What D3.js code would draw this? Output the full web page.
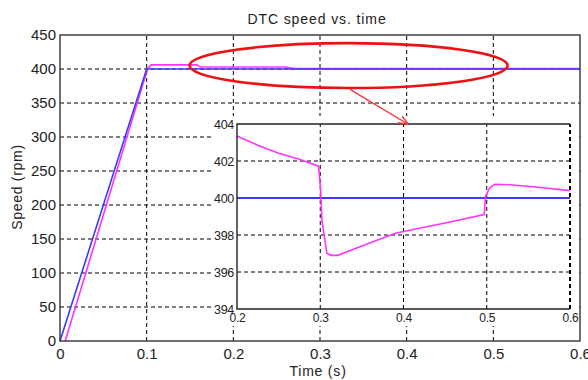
<!DOCTYPE html>
<html>
<head>
<meta charset="utf-8">
<script src="https://cdn.jsdelivr.net/npm/d3@7/dist/d3.min.js"></script>
<style>
  body { margin: 0; background: #fff; }
  svg { display: block; font-family: Arial, "Liberation Sans", sans-serif; }
</style>
</head>
<body>
<svg id="chart" width="588" height="380"></svg>
<script>
// main plot data
const xTicks = [0, 0.1, 0.2, 0.3, 0.4, 0.5, 0.6];
const yTicks = [0, 50, 100, 150, 200, 250, 300, 350, 400, 450];
const refTime = [0, 0.1, 0.6];
const refSpeed = [0, 400, 400];
const actTime = [0.006, 0.101, 0.105, 0.158, 0.162, 0.26, 0.27, 0.6];
const actSpeed = [0, 400, 406, 406, 403, 403, 400.6, 400.6];

// zoomed inset data
const insetXTicks = [0.2, 0.3, 0.4, 0.5, 0.6];
const insetYTicks = [394, 396, 398, 400, 402, 404];
const insetRefTime = [0.2, 0.6];
const insetRefSpeed = [400, 400];
const insetActTime = [0.2, 0.225, 0.25, 0.275, 0.298, 0.3005, 0.302, 0.308, 0.313, 0.321,
  0.35, 0.39, 0.45, 0.497, 0.4985, 0.504, 0.51, 0.528, 0.545, 0.568, 0.6];
const insetActSpeed = [403.35, 402.85, 402.42, 402.1, 401.72, 400.4, 398.8, 397.0, 396.9, 396.9,
  397.4, 398.1, 398.65, 399.1, 400.1, 400.58, 400.74, 400.72, 400.65, 400.55, 400.4];

// red annotation (in main-plot units)
const ringCenter = [0.333, 405];
const ringRadius = [0.1835, 33];
const arrowFrom = [0.3346, 370];
const arrowTo = [0.405, 404]; // inset units

const svg = d3.select('#chart');
const blue = '#3a3aff';
const magenta = '#ff33ff';
const gridDash = '4,3';
const font = 'Arial, "Liberation Sans", sans-serif';

const x = d3.scaleLinear().domain([0, 0.6]).range([60, 580]);
const y = d3.scaleLinear().domain([0, 450]).range([341, 35]);

const xi = d3.scaleLinear().domain([0.2, 0.6]).range([237, 570]);
const yi = d3.scaleLinear().domain([394, 404]).range([309, 124]);

const zip = (a, b) => a.map((v, i) => [v, b[i]]);

// main grid
const grid = svg.append('g');
grid.selectAll('line.gx')
  .data(xTicks.slice(1, -1))
  .join('line')
  .attr('x1', (d) => x(d)).attr('x2', (d) => x(d))
  .attr('y1', y(0)).attr('y2', y(450))
  .attr('stroke', '#000').attr('stroke-dasharray', gridDash);
grid.selectAll('line.gy')
  .data(yTicks.slice(1, -1))
  .join('line')
  .attr('class', 'gy')
  .attr('x1', x(0)).attr('x2', x(0.6))
  .attr('y1', (d) => y(d)).attr('y2', (d) => y(d))
  .attr('stroke', '#000').attr('stroke-dasharray', gridDash);

// main lines
const mainLine = d3.line().x((d) => x(d[0])).y((d) => y(d[1]));
svg.append('path')
  .datum(zip(actTime, actSpeed))
  .attr('d', mainLine)
  .attr('fill', 'none').attr('stroke', magenta).attr('stroke-width', 1.6);
svg.append('path')
  .datum(zip(refTime, refSpeed))
  .attr('d', mainLine)
  .attr('fill', 'none').attr('stroke', blue).attr('stroke-width', 1.6);

// main frame
svg.append('rect')
  .attr('x', x(0)).attr('y', y(450))
  .attr('width', x(0.6) - x(0)).attr('height', y(0) - y(450))
  .attr('fill', 'none').attr('stroke', '#333').attr('stroke-width', 1.4);

// main tick labels
const mainAxisX = d3.axisBottom(x).tickValues(xTicks).tickSize(0).tickPadding(7)
  .tickFormat((d) => (d === 0 ? '0' : d3.format('.1f')(d)));
svg.append('g')
  .attr('transform', `translate(0,${y(0)})`)
  .call(mainAxisX)
  .call((g) => g.select('.domain').remove())
  .call((g) => g.selectAll('text').attr('font-size', 15).attr('fill', '#222')
    .attr('font-family', font));

const mainAxisY = d3.axisLeft(y).tickValues(yTicks).tickSize(0).tickPadding(4);
svg.append('g')
  .attr('transform', `translate(${x(0)},0)`)
  .call(mainAxisY)
  .call((g) => g.select('.domain').remove())
  .call((g) => g.selectAll('text').attr('font-size', 15).attr('fill', '#222')
    .attr('font-family', font));

// titles
svg.append('text')
  .attr('x', 317).attr('y', 24)
  .attr('text-anchor', 'middle')
  .attr('font-size', 14).attr('letter-spacing', 0.9).attr('fill', '#222')
  .text('DTC speed vs. time');
svg.append('text')
  .attr('x', 318).attr('y', 376)
  .attr('text-anchor', 'middle')
  .attr('font-size', 14).attr('letter-spacing', 0.8).attr('fill', '#222')
  .text('Time (s)');
svg.append('text')
  .attr('transform', 'translate(22,187) rotate(-90)')
  .attr('text-anchor', 'middle')
  .attr('font-size', 14).attr('letter-spacing', 0.7).attr('fill', '#222')
  .text('Speed (rpm)');

// inset backdrop
svg.append('rect')
  .attr('x', 212).attr('y', 116)
  .attr('width', 367).attr('height', 210)
  .attr('fill', '#fff');

// inset grid
const igrid = svg.append('g');
igrid.selectAll('line.ix')
  .data(insetXTicks.slice(1))
  .join('line')
  .attr('class', 'ix')
  .attr('x1', (d) => xi(d)).attr('x2', (d) => xi(d))
  .attr('y1', yi(394)).attr('y2', yi(404))
  .attr('stroke', '#000').attr('stroke-dasharray', gridDash)
  .attr('stroke-width', (d) => (d === 0.6 ? 2 : 1));
igrid.selectAll('line.iy')
  .data(insetYTicks.slice(1, -1))
  .join('line')
  .attr('class', 'iy')
  .attr('x1', xi(0.2)).attr('x2', xi(0.6))
  .attr('y1', (d) => yi(d)).attr('y2', (d) => yi(d))
  .attr('stroke', '#000').attr('stroke-dasharray', gridDash);

// inset lines
const insetLine = d3.line().x((d) => xi(d[0])).y((d) => yi(d[1]));
svg.append('path')
  .datum(zip(insetRefTime, insetRefSpeed))
  .attr('d', insetLine)
  .attr('fill', 'none').attr('stroke', blue).attr('stroke-width', 1.8);
svg.append('path')
  .datum(zip(insetActTime, insetActSpeed))
  .attr('d', insetLine)
  .attr('fill', 'none').attr('stroke', magenta).attr('stroke-width', 1.6);

// inset frame: left, top, bottom solid
svg.append('path')
  .attr('d', `M${xi(0.6)},${yi(404)}H${xi(0.2)}V${yi(394)}H${xi(0.6)}`)
  .attr('fill', 'none').attr('stroke', '#222').attr('stroke-width', 1.4);

const insetAxisX = d3.axisBottom(xi).tickValues(insetXTicks).tickSize(0).tickPadding(4)
  .tickFormat(d3.format('.1f'));
svg.append('g')
  .attr('transform', `translate(0,${yi(394)})`)
  .call(insetAxisX)
  .call((g) => g.select('.domain').remove())
  .call((g) => g.selectAll('text').attr('font-size', 12).attr('letter-spacing', -0.3)
    .attr('fill', '#222').attr('font-family', font));

const insetAxisY = d3.axisLeft(yi).tickValues(insetYTicks).tickSize(0).tickPadding(3);
svg.append('g')
  .attr('transform', `translate(${xi(0.2)},0)`)
  .call(insetAxisY)
  .call((g) => g.select('.domain').remove())
  .call((g) => g.selectAll('text').attr('font-size', 12.5).attr('letter-spacing', -0.3)
    .attr('fill', '#222').attr('font-family', font));

// annotation ring and arrow
svg.append('ellipse')
  .attr('cx', x(ringCenter[0])).attr('cy', y(ringCenter[1]))
  .attr('rx', x(ringRadius[0]) - x(0)).attr('ry', y(0) - y(ringRadius[1]))
  .attr('fill', 'none').attr('stroke', '#ee1111').attr('stroke-width', 2.6);

svg.append('defs').append('marker')
  .attr('id', 'head')
  .attr('viewBox', '0 0 10 10')
  .attr('refX', 9).attr('refY', 5)
  .attr('markerWidth', 7).attr('markerHeight', 7)
  .attr('orient', 'auto')
  .append('path')
  .attr('d', 'M0,1L10,5L0,9')
  .attr('fill', 'none').attr('stroke', '#ff3333').attr('stroke-width', 1.5);

svg.append('line')
  .attr('x1', x(arrowFrom[0])).attr('y1', y(arrowFrom[1]))
  .attr('x2', xi(arrowTo[0])).attr('y2', yi(arrowTo[1]))
  .attr('stroke', '#ff3333').attr('stroke-width', 1.4)
  .attr('marker-end', 'url(#head)');
</script>
</body>
</html>
